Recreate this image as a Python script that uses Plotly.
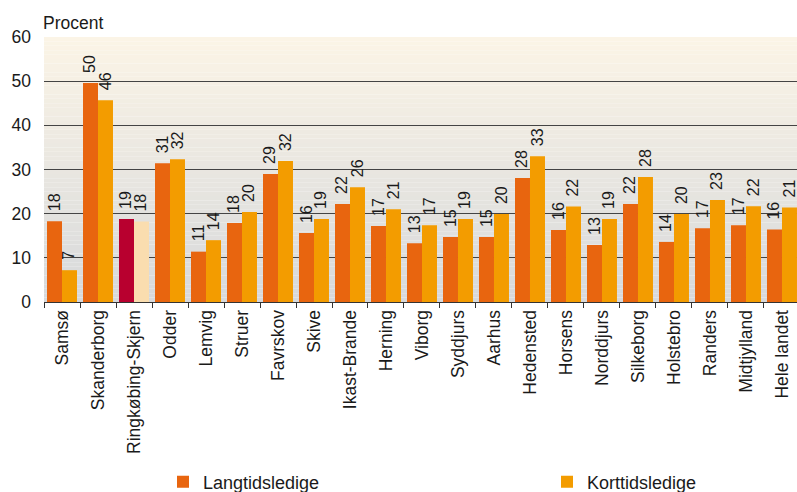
import plotly.graph_objects as go

# Data (percent)
kommuner = ["Samsø", "Skanderborg", "Ringkøbing-Skjern", "Odder", "Lemvig", "Struer",
            "Favrskov", "Skive", "Ikast-Brande", "Herning", "Viborg", "Syddjurs",
            "Aarhus", "Hedensted", "Horsens", "Norddjurs", "Silkeborg", "Holstebro",
            "Randers", "Midtjylland", "Hele landet"]
langtid = [18.3, 49.6, 18.8, 31.4, 11.4, 17.9, 29.0, 15.6, 22.2, 17.2, 13.3, 14.7,
           14.7, 28.1, 16.3, 12.9, 22.2, 13.6, 16.7, 17.4, 16.4]
korttid = [7.2, 45.7, 18.2, 32.3, 14.0, 20.4, 31.9, 18.8, 26.0, 21.0, 17.4, 18.8,
           19.9, 33.0, 21.6, 18.8, 28.3, 19.9, 23.1, 21.7, 21.4]
fremhaev = "Ringkøbing-Skjern"

col_lang, col_kort = "#E8650F", "#F39C00"
col_lang_hl, col_kort_hl = "#B8002F", "#FADDAF"
font = "Arial, Liberation Sans, sans-serif"
txt = "#1a1a1a"

fig = go.Figure()
fig.add_trace(go.Bar(
    x=kommuner, y=langtid, name="Langtidsledige", legend="legend",
    marker=dict(color=[col_lang_hl if k == fremhaev else col_lang for k in kommuner], line_width=0),
))
fig.add_trace(go.Bar(
    x=kommuner, y=korttid, name="Korttidsledige", legend="legend2",
    marker=dict(color=[col_kort_hl if k == fremhaev else col_kort for k in kommuner], line_width=0),
))

# value labels sit ~10px above the bars in the original, so use annotations
for vals, dx in [(langtid, -8), (korttid, 7)]:
    for k, v in zip(kommuner, vals):
        fig.add_annotation(x=k, y=v, text=f"{v:.0f}", textangle=-90, showarrow=False,
                           xanchor="center", yanchor="bottom", xshift=dx, yshift=8,
                           font=dict(size=16, color=txt, family=font))

# fake the vertical gradient of the plot background with thin bands
top, bottom = (251, 244, 230), (215, 217, 219)
n = 60
for i in range(n):
    t = i / (n - 1)
    c = tuple(round(bottom[j] + (top[j] - bottom[j]) * t) for j in range(3))
    fig.add_shape(type="rect", xref="paper", yref="y", x0=0, x1=1,
                  y0=60 * i / n, y1=60 * (i + 1) / n,
                  fillcolor=f"rgb{c}", line_width=0, layer="below")

fig.add_annotation(text="Procent", xref="paper", yref="paper", x=0, y=1,
                   xanchor="left", yanchor="bottom", yshift=2, xshift=-3, showarrow=False,
                   font=dict(size=17.5, color=txt, family=font))

leg = dict(orientation="h", xref="container", yref="container", y=(492 - 482) / 492,
           xanchor="left", yanchor="middle", font=dict(size=18, color=txt),
           bgcolor="rgba(0,0,0,0)")

fig.update_layout(
    width=797, height=492,
    margin=dict(l=44, r=0, t=37, b=190, autoexpand=False),
    paper_bgcolor="white", plot_bgcolor="white",
    barmode="group", bargap=0.167, bargroupgap=0,
    font=dict(family=font, size=17.5, color=txt),
    showlegend=True,
    legend=dict(leg, x=163 / 797),
    legend2=dict(leg, x=547 / 797),
    xaxis=dict(range=[-0.5, 20.417], tickangle=-90, tickson="boundaries",
               ticks="outside", ticklen=5, tickcolor="#333333",
               showline=True, linecolor="#333333", linewidth=1, automargin=False,
               showgrid=False, tickfont=dict(size=17.5)),
    yaxis=dict(range=[0, 60], dtick=10, showgrid=True, gridcolor="#444444",
               gridwidth=1, zeroline=False, showline=False, ticks="", automargin=False,
               ticklabelstandoff=12, tickfont=dict(size=17.5)),
)

fig.write_html("out.html", config={"displayModeBar": False},
               post_script="document.body.style.margin='0';")
